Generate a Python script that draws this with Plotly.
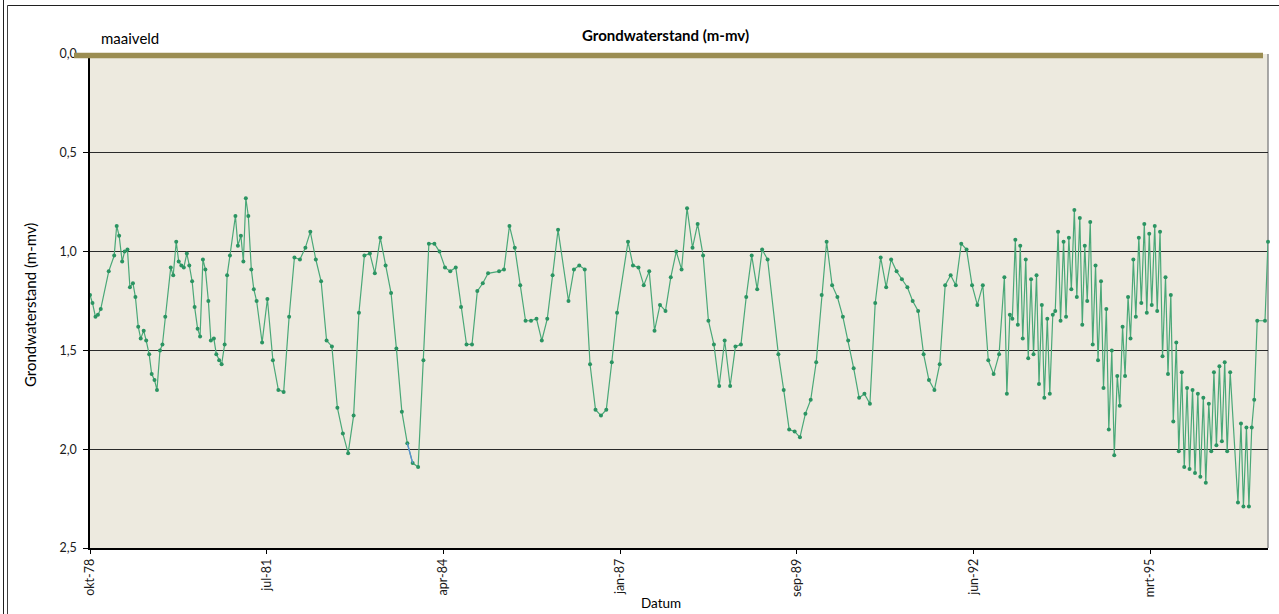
import pandas as pd
import plotly.graph_objects as go

N = None
# Grondwaterstand (m-mv), measurements on the 14th and 28th of each month
gws_1978 = [1.22, 1.26, 1.33, 1.32, 1.29, N]  # okt-dec
gws_1979 = [N, 1.10, N, 1.02, 0.87, 0.92, 1.05, 1.00, 0.99, 1.18, 1.16, 1.23,
            1.38, 1.44, 1.40, 1.45, 1.52, 1.62, 1.65, 1.70, 1.50, 1.47, 1.33, N]
gws_1980 = [1.08, 1.12, 0.95, 1.05, 1.07, 1.08, 1.01, 1.07, 1.15, 1.28, 1.39, 1.43,
            1.04, 1.09, 1.25, 1.45, 1.44, 1.52, 1.55, 1.57, 1.47, 1.12, 1.02, N]
gws_1981 = [0.82, 0.97, 0.92, 1.05, 0.73, 0.82, 1.09, 1.19, 1.25, N, 1.46, N,
            1.24, N, 1.55, N, 1.70, N, 1.71, N, 1.33, N, 1.03, N]
gws_1982 = [1.04, N, 0.98, N, 0.90, N, 1.04, N, 1.15, N, 1.45, N,
            1.48, N, 1.79, N, 1.92, N, 2.02, N, 1.83, N, 1.31, N]
gws_1983 = [1.02, N, 1.01, N, 1.11, N, 0.93, N, 1.07, N, 1.21, N,
            1.49, N, 1.81, N, 1.97, N, 2.07, N, 2.09, N, 1.55, N]
gws_1984 = [0.96, N, 0.96, N, 1.00, N, 1.08, N, 1.10, N, 1.08, N,
            1.28, N, 1.47, N, 1.47, N, 1.20, N, 1.16, N, 1.11, N]
gws_1985 = [N, N, 1.10, N, 1.09, N, 0.87, N, 0.98, N, 1.17, N,
            1.35, N, 1.35, N, 1.34, N, 1.45, N, 1.34, N, 1.12, N]
gws_1986 = [0.89, N, N, N, 1.25, N, 1.09, N, 1.07, N, 1.09, N,
            1.57, N, 1.80, N, 1.83, N, 1.80, N, 1.56, N, 1.31, N]
gws_1987 = [N, N, 0.95, N, 1.07, N, 1.08, N, 1.17, N, 1.10, N,
            1.40, N, 1.27, N, 1.30, N, 1.13, N, 1.00, N, 1.09, N]
gws_1988 = [0.78, N, 0.98, N, 0.86, N, 1.02, N, 1.35, N, 1.47, N,
            1.68, N, 1.45, N, 1.68, N, 1.48, N, 1.47, N, 1.23, N]
gws_1989 = [1.02, N, 1.19, N, 0.99, N, 1.04, N, N, N, 1.52, N,
            1.70, N, 1.90, N, 1.91, N, 1.94, N, 1.82, N, 1.75, N]
gws_1990 = [1.56, N, 1.22, N, 0.95, N, 1.17, N, 1.23, N, 1.33, N,
            1.45, N, 1.59, N, 1.74, N, 1.72, N, 1.77, N, 1.26, N]
gws_1991 = [1.03, N, 1.18, N, 1.04, N, 1.10, N, 1.14, N, 1.18, N,
            1.25, N, 1.30, N, 1.52, N, 1.65, N, 1.70, N, 1.57, N]
gws_1992 = [1.17, N, 1.12, N, 1.17, N, 0.96, N, 0.99, N, 1.17, N,
            1.27, N, 1.17, N, 1.55, N, 1.62, N, 1.52, N, 1.13, 1.72]
gws_1993 = [1.32, 1.34, 0.94, 1.37, 0.97, 1.44, 1.04, 1.54, 1.14, 1.52, 1.12, 1.67,
            1.27, 1.74, 1.34, 1.72, 1.32, 1.30, 0.90, 1.35, 0.95, 1.33, 0.93, 1.19]
gws_1994 = [0.79, 1.23, 0.83, 1.37, 0.97, 1.25, 0.85, 1.47, 1.07, 1.55, 1.15, 1.69,
            1.29, 1.90, 1.50, 2.03, 1.63, 1.78, 1.38, 1.63, 1.23, 1.44, 1.04, 1.33]
gws_1995 = [0.93, 1.26, 0.86, 1.31, 0.91, 1.27, 0.87, 1.30, 0.90, 1.53, 1.13, 1.62,
            1.22, 1.86, 1.46, 2.01, 1.61, 2.09, 1.69, 2.10, 1.70, 2.12, 1.72, 2.14]
gws_1996 = [1.74, 2.17, 1.77, 2.01, 1.61, 1.98, 1.58, 1.96, 1.56, 2.01, 1.61, N,
            N, 2.27, 1.87, 2.29, 1.89, 2.29, 1.89, 1.75, 1.35, N, N, 1.35]
gws_1997 = [0.95]

# short second segment drawn in blue
blue_dates = ["1983-09-14", "1983-10-14"]
blue_values = [1.97, 2.07]

MAAIVELD = 0.0
x_tick_labels = ["okt-78", "jul-81", "apr-84", "jan-87", "sep-89", "jun-92", "mrt-95"]
y_ticks = [0.0, 0.5, 1.0, 1.5, 2.0, 2.5]
Y_TOP, Y_BOTTOM = 0.0, 2.5

year_series = [
    (1978, 10, gws_1978), (1979, 1, gws_1979), (1980, 1, gws_1980), (1981, 1, gws_1981),
    (1982, 1, gws_1982), (1983, 1, gws_1983), (1984, 1, gws_1984), (1985, 1, gws_1985),
    (1986, 1, gws_1986), (1987, 1, gws_1987), (1988, 1, gws_1988), (1989, 1, gws_1989),
    (1990, 1, gws_1990), (1991, 1, gws_1991), (1992, 1, gws_1992), (1993, 1, gws_1993),
    (1994, 1, gws_1994), (1995, 1, gws_1995), (1996, 1, gws_1996), (1997, 1, gws_1997),
]

dates, values = [], []
for year, first_month, vals in year_series:
    for i, v in enumerate(vals):
        month = first_month + i // 2
        day = 14 if i % 2 == 0 else 28
        dates.append(f"{year}-{month:02d}-{day:02d}")
        values.append(v)

start = pd.Timestamp(dates[0])
end = pd.Timestamp(dates[-1])
tickvals = [start + pd.Timedelta(days=1000 * i) for i in range(len(x_tick_labels))]

# ---- layout geometry (pixels) ----
W, H = 1279, 614
ML, MR, MT, MB = 90, 11, 54, 66
PW, PH = W - ML - MR, H - MT - MB


def px_x(px):
    return (px - ML) / PW


def px_y(py):
    return (H - MB - py) / PH


# maaiveld level expressed on the (reversed) y axis as a fraction of the plot height
maaiveld_frac = (Y_BOTTOM - MAAIVELD) / (Y_BOTTOM - Y_TOP)

FONT = "Lato, 'Open Sans', sans-serif"
GREEN_LINE = "#4aa878"
GREEN_MARK = "#2b9462"

fig = go.Figure()
fig.add_trace(go.Scatter(
    x=dates, y=values, mode="lines+markers", connectgaps=True,
    line=dict(color=GREEN_LINE, width=1.2),
    marker=dict(color=GREEN_MARK, size=4),
    cliponaxis=False, showlegend=False, name="Grondwaterstand",
))
fig.add_trace(go.Scatter(
    x=blue_dates, y=blue_values, mode="lines",
    line=dict(color="#5b8fd6", width=1.2),
    showlegend=False, name="",
))

shapes = [
    # right border of plot area
    dict(type="line", xref="paper", yref="paper", x0=1, x1=1, y0=0, y1=1,
         line=dict(color="#8c8c8c", width=1.5), layer="below"),
    # maaiveld line (not clipped: paper referenced)
    dict(type="line", xref="paper", yref="paper", x0=px_x(74), x1=px_x(1263),
         y0=maaiveld_frac - 0.003, y1=maaiveld_frac - 0.003,
         line=dict(color="#9b8d52", width=5.5), layer="above"),
    # outer frame
    dict(type="line", xref="paper", yref="paper", x0=px_x(3.5), x1=px_x(3.5),
         y0=px_y(-5), y1=px_y(620), line=dict(color="#202020", width=1)),
    dict(type="line", xref="paper", yref="paper", x0=px_x(7.5), x1=px_x(7.5),
         y0=px_y(5.5), y1=px_y(620), line=dict(color="#404040", width=1)),
    dict(type="line", xref="paper", yref="paper", x0=px_x(7.5), x1=px_x(1285),
         y0=px_y(5.5), y1=px_y(5.5), line=dict(color="#202020", width=1)),
]

annotations = [
    dict(text="<b>Grondwaterstand (m-mv)</b>", xref="paper", yref="paper",
         x=px_x(665), y=px_y(35), xanchor="center", yanchor="middle",
         showarrow=False, font=dict(size=15, color="#000000", family=FONT)),
    dict(text="maaiveld", xref="paper", yref="paper",
         x=px_x(99), y=px_y(38), xanchor="left", yanchor="middle",
         showarrow=False, font=dict(size=15, color="#000000", family=FONT)),
    dict(text="Datum", xref="paper", yref="paper",
         x=px_x(661), y=px_y(603), xanchor="center", yanchor="middle",
         showarrow=False, font=dict(size=13.5, color="#000000", family=FONT)),
    dict(text="Grondwaterstand (m-mv)", xref="paper", yref="paper",
         x=px_x(30), y=px_y(305), xanchor="center", yanchor="middle", textangle=-90,
         showarrow=False, font=dict(size=15, color="#000000", family=FONT)),
]

fig.update_layout(
    width=W, height=H, autosize=False,
    margin=dict(l=ML, r=MR, t=MT, b=MB, pad=0),
    paper_bgcolor="#ffffff", plot_bgcolor="#edeadf",
    separators=",.",
    font=dict(family=FONT, color="#1a1a1a", size=12),
    shapes=shapes, annotations=annotations,
    showlegend=False,
    xaxis=dict(
        type="date", range=[start, end],
        tickmode="array", tickvals=tickvals, ticktext=x_tick_labels,
        tickangle=-90, ticks="outside", ticklen=4, tickcolor="#000000", tickwidth=1,
        showline=True, linecolor="#000000", linewidth=1.5,
        showgrid=False, zeroline=False,
        tickfont=dict(size=12.5, family=FONT, color="#1a1a1a"),
    ),
    yaxis=dict(
        range=[Y_BOTTOM, Y_TOP], tickmode="array", tickvals=y_ticks, tickformat=".1f",
        ticks="outside", ticklen=5, tickcolor="#000000", tickwidth=1,
        showline=True, linecolor="#000000", linewidth=1.5,
        showgrid=True, gridcolor="#2a2a2a", gridwidth=1, zeroline=False,
        tickfont=dict(size=12.5, family=FONT, color="#1a1a1a"),
        ticklabelstandoff=4,
    ),
)

fig.write_html("out.html")
